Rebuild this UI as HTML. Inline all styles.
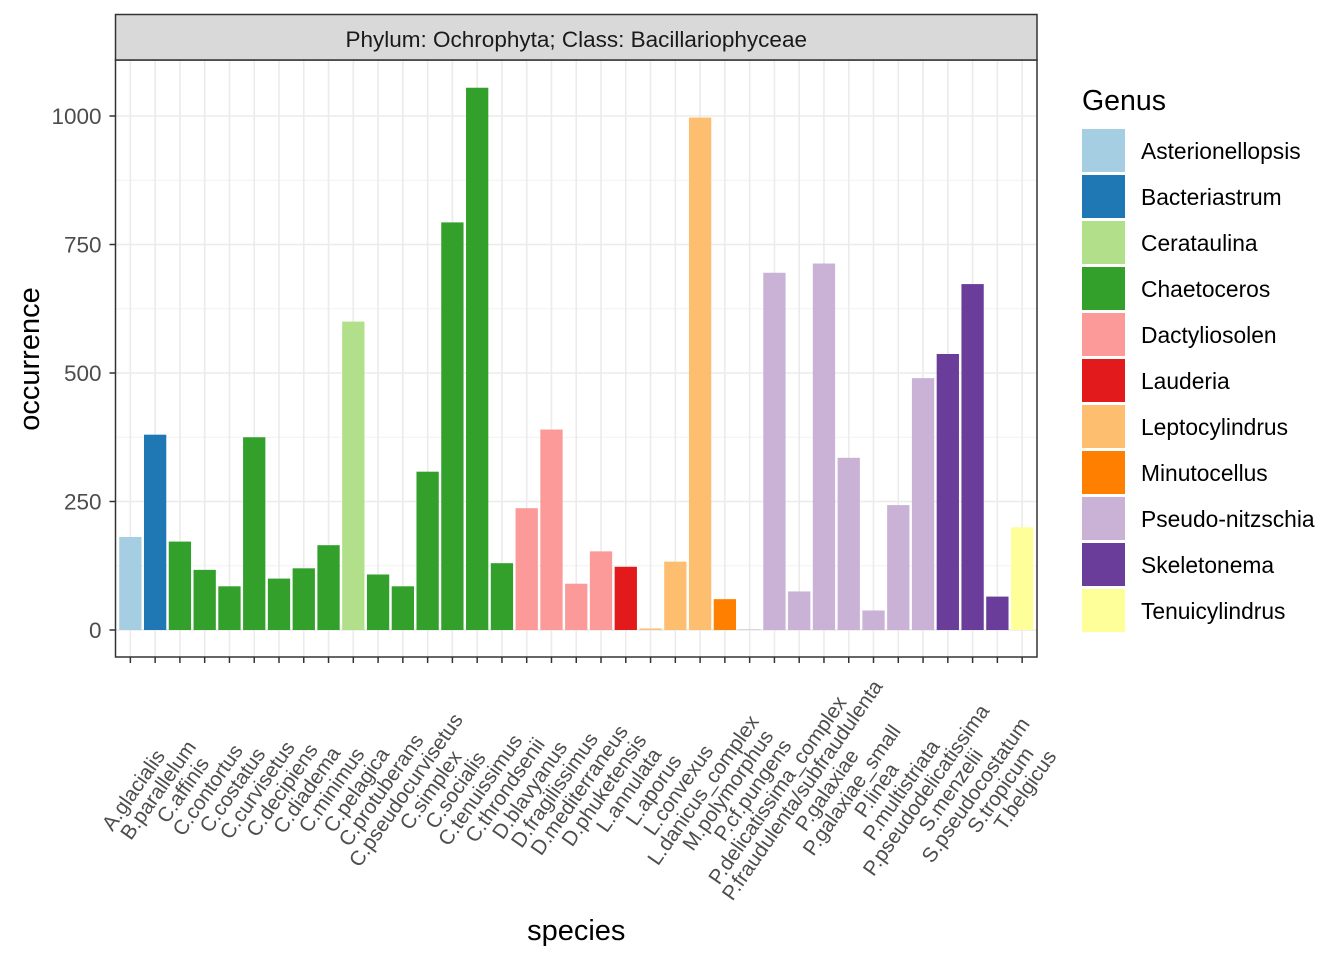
<!DOCTYPE html>
<html><head><meta charset="utf-8">
<style>
body{margin:0;background:#fff;}
svg{display:block;font-family:"Liberation Sans",Arial,sans-serif;}
</style></head>
<body>
<svg id="chart" width="1344" height="960" xmlns="http://www.w3.org/2000/svg"></svg>
<script>
const species = ["A.glacialis","B.parallelum","C.affinis","C.contortus","C.costatus","C.curvisetus","C.decipiens","C.diadema","C.minimus","C.pelagica","C.protuberans","C.pseudocurvisetus","C.simplex","C.socialis","C.tenuissimus","C.throndsenii","D.blavyanus","D.fragilissimus","D.mediterraneus","D.phuketensis","L.annulata","L.aporus","L.convexus","L.danicus_complex","M.polymorphus","P.cf.pungens","P.delicatissima_complex","P.fraudulenta/subfraudulenta","P.galaxiae","P.galaxiae_small","P.linea","P.multistriata","P.pseudodelicatissima","S.menzelii","S.pseudocostatum","S.tropicum","T.belgicus"];
const occurrence = [181,380,172,117,85,375,100,120,165,600,108,85,308,793,1055,130,237,390,90,153,123,3,133,997,60,1,695,75,713,335,38,243,490,537,673,65,200];
const genusOf = ["Asterionellopsis","Bacteriastrum","Chaetoceros","Chaetoceros","Chaetoceros","Chaetoceros","Chaetoceros","Chaetoceros","Chaetoceros","Cerataulina","Chaetoceros","Chaetoceros","Chaetoceros","Chaetoceros","Chaetoceros","Chaetoceros","Dactyliosolen","Dactyliosolen","Dactyliosolen","Dactyliosolen","Lauderia","Leptocylindrus","Leptocylindrus","Leptocylindrus","Minutocellus","Pseudo-nitzschia","Pseudo-nitzschia","Pseudo-nitzschia","Pseudo-nitzschia","Pseudo-nitzschia","Pseudo-nitzschia","Pseudo-nitzschia","Pseudo-nitzschia","Skeletonema","Skeletonema","Skeletonema","Tenuicylindrus"];
const genera = ["Asterionellopsis","Bacteriastrum","Cerataulina","Chaetoceros","Dactyliosolen","Lauderia","Leptocylindrus","Minutocellus","Pseudo-nitzschia","Skeletonema","Tenuicylindrus"];
const genusColors = ["#a6cee3","#1f78b4","#b2df8a","#33a02c","#fb9a99","#e31a1c","#fdbf6f","#ff7f00","#cab2d6","#6a3d9a","#ffff99"];
const yTicks = [0,250,500,750,1000];
const yMinor = [125,375,625,875];

const svg = document.getElementById('chart');
const NS = "http://www.w3.org/2000/svg";
function mk(tag, attrs, parent){const e=document.createElementNS(NS,tag);for(const k in attrs)e.setAttribute(k,attrs[k]);(parent||svg).appendChild(e);return e;}

const PL=115.5, PR=1037, PT=60, PB=657;
const y0=630, pxPer=(630-116)/1000;
const yScale=v=>y0-v*pxPer;
const step=(PR-PL)/(species.length-1+1.2);
const xScale=i=>PL+step*(0.6+i);

const grid=mk('g',{});


yMinor.forEach(v=>mk('line',{x1:PL,x2:PR,y1:yScale(v),y2:yScale(v),stroke:'#f2f2f2','stroke-width':1},grid));
yTicks.forEach(v=>mk('line',{x1:PL,x2:PR,y1:yScale(v),y2:yScale(v),stroke:'#ebebeb','stroke-width':1.6},grid));
species.forEach((s,i)=>mk('line',{x1:xScale(i),x2:xScale(i),y1:PT,y2:PB,stroke:'#ebebeb','stroke-width':1.6},grid));

const bars=mk('g',{});


const bw=step*0.9;
species.forEach((s,i)=>{
  const v=occurrence[i];
  const c=genusColors[genera.indexOf(genusOf[i])];
  const r=mk('rect',{x:xScale(i)-bw/2,y:yScale(v),width:bw,height:y0-yScale(v),fill:c},bars);
  
  
});

const border=mk('rect',{x:PL,y:PT,width:PR-PL,height:PB-PT,fill:'none',stroke:'#333','stroke-width':1.5});



const strip=mk('rect',{x:PL,y:14.5,width:PR-PL,height:PT-14.5,fill:'#d9d9d9',stroke:'#333','stroke-width':1.5});


const st=mk('text',{x:(PL+PR)/2,y:47,'text-anchor':'middle','font-size':22.5,fill:'#1a1a1a'});
st.textContent='Phylum: Ochrophyta; Class: Bacillariophyceae';



yTicks.forEach(v=>{
  mk('line',{x1:PL-6,x2:PL,y1:yScale(v),y2:yScale(v),stroke:'#333','stroke-width':1.5});
  const t=mk('text',{x:PL-14,y:yScale(v)+8,'text-anchor':'end','font-size':22.5,fill:'#4d4d4d'});
  t.textContent=v;
  
  
});
species.forEach((s,i)=>{
  const x=xScale(i);
  mk('line',{x1:x,x2:x,y1:PB,y2:PB+6,stroke:'#333','stroke-width':1.5});
  const cx=x+3, cy=790;
  const t=mk('text',{x:cx,y:cy+7,'text-anchor':'middle','font-size':20.7,fill:'#4d4d4d',transform:`rotate(-55 ${cx} ${cy})`});
  t.textContent=s;
  
  
});

const yt=mk('text',{x:0,y:0,'text-anchor':'middle','font-size':29,fill:'#000',transform:'translate(39 359) rotate(-90)'});
yt.textContent='occurrence';


const xt=mk('text',{x:(PL+PR)/2,y:940,'text-anchor':'middle','font-size':29,fill:'#000'});
xt.textContent='species';



const lg=mk('g',{});


const ltitle=mk('text',{x:1082,y:110,'font-size':28.5,fill:'#000'},lg);
ltitle.textContent='Genus';


genera.forEach((g,i)=>{
  const y=129+i*46;
  const k=mk('rect',{x:1082,y:y,width:43,height:43,fill:genusColors[i]},lg);
  
  
  const t=mk('text',{x:1141,y:y+30,'font-size':22.8,fill:'#000'},lg);
  t.textContent=g;
  
  
});
</script>
</body></html>
